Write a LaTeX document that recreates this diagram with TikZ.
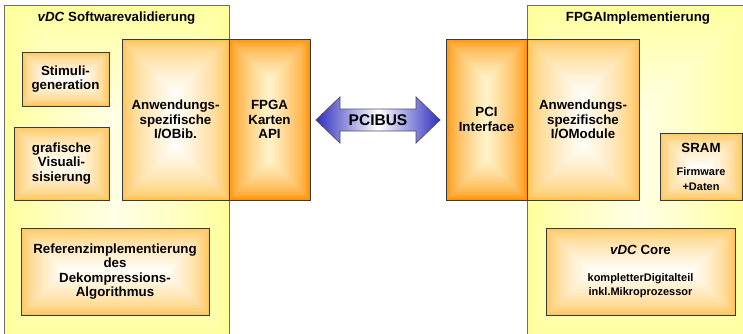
\documentclass[tikz,border=0pt]{standalone}
\usepackage{fontspec}
\setmainfont{Liberation Sans}
\usetikzlibrary{calc}

\definecolor{paneledge}{HTML}{6E6E6E}
\definecolor{panelout}{HTML}{FFFF99}
\definecolor{panelin}{HTML}{FFFFE6}
\definecolor{boxedge}{HTML}{3A3A3A}
\definecolor{boxout}{HTML}{FFC252}
\definecolor{boxin}{HTML}{FFFFFA}
\definecolor{hotout}{HTML}{FF9000}
\definecolor{hotin}{HTML}{FFF4CC}
\definecolor{busblue}{HTML}{3030C0}
\definecolor{busedge}{HTML}{505060}

% rectangular glow: colour depends on the distance to the nearest edge,
% drawn as a stack of inset rectangles from the edge colour to the centre colour
\newcommand{\rectglow}[4]{% #1 edge colour, #2 centre colour, #3 steps, #4 curve exponent
  \pgfpointdiff{\pgfpointanchor{path picture bounding box}{south west}}%
               {\pgfpointanchor{path picture bounding box}{north east}}%
  \pgfgetlastxy{\glowW}{\glowH}%
  \pgfmathsetmacro\glowD{min(\glowW,\glowH)/2}%
  \foreach \k in {0,...,#3}{%
    \pgfmathsetmacro\glowT{100*(\k/#3)^#4}%
    \pgfmathsetmacro\glowI{\glowD*\k/#3}%
    \fill[#2!\glowT!#1]
      ([shift={(\glowI pt,\glowI pt)}]path picture bounding box.south west) rectangle
      ([shift={(-\glowI pt,-\glowI pt)}]path picture bounding box.north east);
  }%
}

\newcommand{\vdcmark}{\textit{vDC}}

\tikzset{
  panel/.style={draw=paneledge, line width=0.9pt, fill=panelout,
                path picture={\rectglow{panelout}{panelin}{40}{0.8}},
                inner sep=0pt, outer sep=0pt},
  unit/.style={draw=boxedge, line width=0.9pt, fill=boxout,
               path picture={\rectglow{boxout}{boxin}{30}{0.6}},
               inner sep=0pt, outer sep=0pt, align=center,
               font=\bfseries\fontsize{13.3}{14.5}\selectfont},
  hotunit/.style={unit, fill=hotout, path picture={\rectglow{hotout}{hotin}{30}{0.6}}},
  paneltitle/.style={font=\bfseries\fontsize{13.3}{14.5}\selectfont, inner sep=0pt},
  bus/.style={draw=busedge, line width=0.8pt, left color=busblue, right color=busblue,
              middle color=white},
  buslabel/.style={font=\bfseries\fontsize{15.5}{17}\selectfont, inner sep=0pt},
}

\begin{document}
\begin{tikzpicture}[x=1pt, y=-1pt]
\useasboundingbox (0,0) rectangle (743,334);

% two large panels
\node[panel, minimum width=225pt, minimum height=335pt] (sw) at (116.5,172.5) {};
\node[panel, minimum width=223pt, minimum height=335pt] (hw) at (638.5,172.5) {};
\node[paneltitle] (swtitle) at (116.5,18) {\vdcmark{} Softwarevalidierung};
\node[paneltitle] (hwtitle) at (638,18) {FPGAImplementierung};

% software side
\node[unit, minimum width=87pt, minimum height=54pt] (stim) at (65.5,79) {Stimuli-\\generation};
\node[unit, minimum width=95pt, minimum height=73pt] (graf) at (61.5,163.5) {grafische\\Visuali-\\sisierung};
\node[unit, minimum width=107pt, minimum height=161pt] (bib) at (175.5,119.5) {Anwendungs-\\spezifische\\I/OBib.};
\node[hotunit, minimum width=81pt, minimum height=161pt] (api) at (269.5,119.5) {FPGA\\Karten\\API};
\node[unit, minimum width=188pt, minimum height=87pt] (ref) at (115,271.5)
  {Referenzimplementierung\\des\\Dekompressions-\\Algorithmus};

% hardware side
\node[hotunit, minimum width=81pt, minimum height=161pt] (pci) at (486.5,119.5) {PCI\\Interface};
\node[unit, minimum width=112pt, minimum height=161pt] (mod) at (583,119.5) {Anwendungs-\\spezifische\\I/OModule};
\node[unit, minimum width=82pt, minimum height=67pt] (sram) at (701,166.5)
  {SRAM\\[9pt]\fontsize{11}{13}\selectfont Firmware\\\fontsize{11}{13}\selectfont +Daten};
\node[unit, minimum width=189pt, minimum height=87pt] (core) at (640.5,271.5)
  {\vdcmark{} Core\\[12pt]\fontsize{11}{13.5}\selectfont kompletterDigitalteil\\\fontsize{11}{13.5}\selectfont inkl.Mikroprozessor};

% PCI bus double arrow between the two interface blocks
\coordinate (busL) at ($(api.east)+(6,0.5)$);
\coordinate (busR) at ($(pci.west)+(-6,0.5)$);
\path[bus] (busL) -- ($(busL)+(24,-23)$) -- ($(busL)+(24,-11)$) -- ($(busR)+(-24,-11)$)
  -- ($(busR)+(-24,-23)$) -- (busR) -- ($(busR)+(-24,23)$) -- ($(busR)+(-24,11)$)
  -- ($(busL)+(24,11)$) -- ($(busL)+(24,23)$) -- cycle;
\node[buslabel] (buslbl) at ($(busL)!0.5!(busR)$) {PCIBUS};
\end{tikzpicture}
\end{document}
